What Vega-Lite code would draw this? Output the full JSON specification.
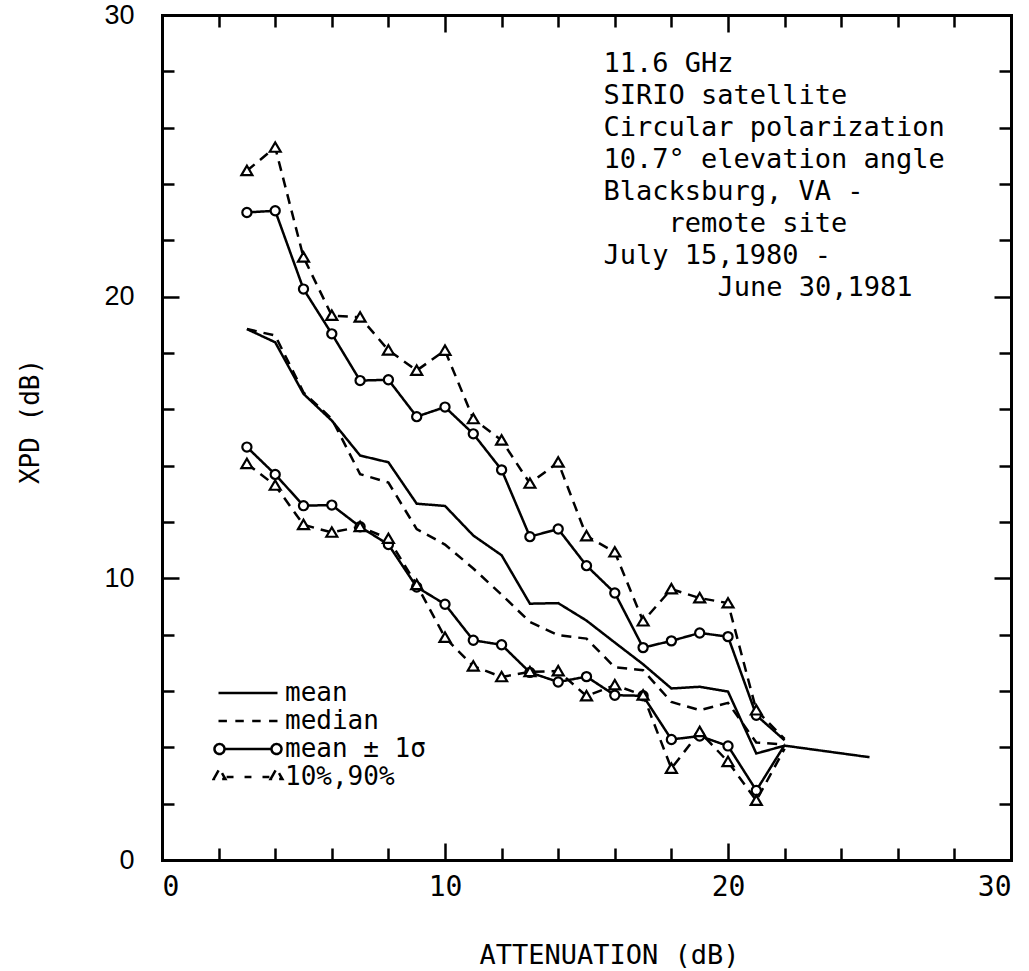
{
  "$schema": "https://vega.github.io/schema/vega-lite/v6.json",
  "width": 849,
  "height": 845,
  "autosize": {"type": "none"},
  "padding": {"left": 162, "top": 15, "right": 18, "bottom": 111},
  "background": "white",
  "config": {
    "view": {"stroke": null},
    "axis": {
      "grid": false,
      "domainColor": "black",
      "domainWidth": 3,
      "domainCap": "square",
      "tickColor": "black",
      "tickWidth": 2.5,
      "labelColor": "black",
      "titleColor": "black",
      "titleFontWeight": "normal"
    },
    "text": {"font": "DejaVu Sans Mono", "fontSize": 27, "align": "left", "baseline": "alphabetic", "lineHeight": 32, "color": "black"}
  },
  "datasets": {
    "xpd": [
      {"a": 3, "mean": 18.85, "median": 18.85, "sd_hi": 22.99, "sd_lo": 14.66, "p90": 24.47, "p10": 14.07},
      {"a": 4, "mean": 18.38, "median": 18.62, "sd_hi": 23.05, "sd_lo": 13.69, "p90": 25.3, "p10": 13.3},
      {"a": 5, "mean": 16.55, "median": 16.6, "sd_hi": 20.27, "sd_lo": 12.58, "p90": 21.4, "p10": 11.9},
      {"a": 6, "mean": 15.6, "median": 15.66, "sd_hi": 18.68, "sd_lo": 12.6, "p90": 19.33, "p10": 11.63},
      {"a": 7, "mean": 14.36, "median": 13.7, "sd_hi": 17.02, "sd_lo": 11.83, "p90": 19.27, "p10": 11.83},
      {"a": 8, "mean": 14.12, "median": 13.4, "sd_hi": 17.05, "sd_lo": 11.2, "p90": 18.1, "p10": 11.41},
      {"a": 9, "mean": 12.65, "median": 11.75, "sd_hi": 15.74, "sd_lo": 9.69, "p90": 17.38, "p10": 9.77},
      {"a": 10, "mean": 12.57, "median": 11.2, "sd_hi": 16.08, "sd_lo": 9.08, "p90": 18.09, "p10": 7.9},
      {"a": 11, "mean": 11.52, "median": 10.35, "sd_hi": 15.13, "sd_lo": 7.8, "p90": 15.66, "p10": 6.88},
      {"a": 12, "mean": 10.82, "median": 9.42, "sd_hi": 13.85, "sd_lo": 7.64, "p90": 14.9, "p10": 6.5},
      {"a": 13, "mean": 9.1, "median": 8.45, "sd_hi": 11.48, "sd_lo": 6.66, "p90": 13.37, "p10": 6.68},
      {"a": 14, "mean": 9.12, "median": 7.98, "sd_hi": 11.75, "sd_lo": 6.32, "p90": 14.12, "p10": 6.71},
      {"a": 15, "mean": 8.5, "median": 7.86, "sd_hi": 10.45, "sd_lo": 6.51, "p90": 11.5, "p10": 5.82},
      {"a": 16, "mean": 7.72, "median": 6.84, "sd_hi": 9.48, "sd_lo": 5.85, "p90": 10.93, "p10": 6.21},
      {"a": 17, "mean": 6.95, "median": 6.74, "sd_hi": 7.54, "sd_lo": 5.83, "p90": 8.48, "p10": 5.85},
      {"a": 18, "mean": 6.09, "median": 5.61, "sd_hi": 7.78, "sd_lo": 4.28, "p90": 9.62, "p10": 3.25},
      {"a": 19, "mean": 6.15, "median": 5.32, "sd_hi": 8.06, "sd_lo": 4.4, "p90": 9.3, "p10": 4.55},
      {"a": 20, "mean": 5.98, "median": 5.58, "sd_hi": 7.93, "sd_lo": 4.05, "p90": 9.12, "p10": 3.49},
      {"a": 21, "mean": 3.78, "median": 4.17, "sd_hi": 5.14, "sd_lo": 2.47, "p90": 5.32, "p10": 2.11},
      {"a": 22, "mean": 4.06, "median": 4.1, "sd_hi": 4.25, "sd_lo": 4.08, "p90": 4.3, "p10": 3.95},
      {"a": 25, "mean": 3.65}
    ],
    "curves": [
      {"curve": "mean", "stat": "mean"},
      {"curve": "median", "stat": "median"},
      {"curve": "sd_hi", "stat": "mean ± 1σ"},
      {"curve": "sd_lo", "stat": "mean ± 1σ"},
      {"curve": "p90", "stat": "10%,90%"},
      {"curve": "p10", "stat": "10%,90%"}
    ]
  },
  "layer": [
    {
      "data": {"name": "xpd"},
      "transform": [
        {"fold": ["mean", "median", "sd_hi", "sd_lo", "p90", "p10"], "as": ["curve", "xpd"]},
        {"filter": "isValid(datum.xpd)"},
        {"lookup": "curve", "from": {"data": {"name": "curves"}, "key": "curve", "fields": ["stat"]}}
      ],
      "mark": {"type": "line", "color": "black", "strokeWidth": 2.5},
      "encoding": {
        "x": {
          "field": "a", "type": "quantitative",
          "scale": {"domain": [0, 30], "nice": false, "zero": false},
          "axis": {
            "orient": "bottom", "values": [0, 10, 20, 30], "ticks": false, "domain": true,
            "labelFont": "DejaVu Sans Mono", "labelFontSize": 28, "labelPadding": 13,
            "labelBaseline": "top", "labelFlush": true,
            "title": "ATTENUATION (dB)", "titleFont": "DejaVu Sans Mono", "titleFontSize": 27,
            "titleX": 447, "titleY": 103, "titleAlign": "center", "titleBaseline": "alphabetic"
          }
        },
        "y": {
          "field": "xpd", "type": "quantitative",
          "scale": {"domain": [0, 30], "nice": false, "zero": false},
          "axis": {
            "orient": "left", "values": [0, 10, 20, 30], "ticks": false, "domain": true,
            "labelFont": "Liberation Sans", "labelFontSize": 27, "labelPadding": 28,
            "title": "XPD (dB)", "titleFont": "DejaVu Sans Mono", "titleFontSize": 26,
            "titleX": -132, "titleY": 406, "titleAngle": 270, "titleAlign": "center", "titleBaseline": "middle"
          }
        },
        "detail": {"field": "curve"},
        "strokeDash": {
          "field": "stat", "type": "nominal",
          "scale": {"domain": ["mean", "median", "mean ± 1σ", "10%,90%"], "range": [[1, 0], [10, 7], [1, 0], [10, 7]]},
          "legend": {
            "orient": "none", "legendX": 50, "legendY": 665, "title": null, "padding": 0,
            "symbolType": "stroke", "symbolSize": 4761, "symbolStrokeWidth": 2.5, "symbolStrokeColor": "black",
            "labelFont": "DejaVu Sans Mono", "labelFontSize": 26, "labelColor": "black", "labelOffset": 1,
            "clipHeight": 26, "rowPadding": 2,
            "encode": {
              "symbols": {
                "update": {
                  "shape": [
                    {"test": "datum.value === 'median'", "value": "M-0.855,0H-0.611M-0.367,0H-0.122M0.122,0H0.367M0.611,0H0.855"},
                    {"test": "datum.value === 'mean ± 1σ'", "value": "M-0.681,0C-0.681,0.08,-0.746,0.145,-0.826,0.145C-0.906,0.145,-0.971,0.08,-0.971,0C-0.971,-0.08,-0.906,-0.145,-0.826,-0.145C-0.746,-0.145,-0.681,-0.08,-0.681,0ZM-0.681,0H0.681M0.971,0C0.971,0.08,0.906,0.145,0.826,0.145C0.746,0.145,0.681,0.08,0.681,0C0.681,-0.08,0.746,-0.145,0.826,-0.145C0.906,-0.145,0.971,-0.08,0.971,0Z"},
                    {"test": "datum.value === '10%,90%'", "value": "M-0.996,0.06L-0.826,-0.24L-0.656,0.06ZM-0.62,0H-0.42M-0.1,0H0.1M0.42,0H0.62M0.656,0.06L0.826,-0.24L0.996,0.06Z"},
                    {"value": "M-0.855,0H0.855"}
                  ],
                  "strokeDash": {"value": []},
                  "fill": {"value": "transparent"},
                  "stroke": {"value": "black"}
                }
              }
            }
          }
        }
      }
    },
    {
      "data": {"name": "xpd"},
      "transform": [
        {"fold": ["sd_hi", "sd_lo", "p90", "p10"], "as": ["curve", "xpd"]},
        {"filter": "isValid(datum.xpd) && datum.a <= 21"},
        {"lookup": "curve", "from": {"data": {"name": "curves"}, "key": "curve", "fields": ["stat"]}}
      ],
      "mark": {"type": "point", "filled": true, "fill": "white", "stroke": "black", "strokeWidth": 2.2, "size": 84, "opacity": 1},
      "encoding": {
        "x": {
          "field": "a", "type": "quantitative",
          "scale": {"domain": [0, 30], "nice": false, "zero": false},
          "axis": {
            "orient": "top", "values": [2, 4, 6, 8, 10, 12, 14, 16, 18, 20, 22, 24, 26, 28],
            "labels": false, "domain": true, "ticks": true, "title": null,
            "tickSize": {"condition": {"test": "datum.value % 10 === 0", "value": -17}, "value": -12}
          }
        },
        "y": {
          "field": "xpd", "type": "quantitative",
          "scale": {"domain": [0, 30], "nice": false, "zero": false},
          "axis": {
            "orient": "right", "values": [2, 4, 6, 8, 10, 12, 14, 16, 18, 20, 22, 24, 26, 28],
            "labels": false, "domain": true, "ticks": true, "title": null,
            "tickSize": {"condition": {"test": "datum.value % 10 === 0", "value": -17}, "value": -12}
          }
        },
        "shape": {
          "field": "stat", "type": "nominal",
          "scale": {"domain": ["mean ± 1σ", "10%,90%"], "range": ["circle", "M-1.2,0.95L0,-1.1L1.2,0.95Z"]},
          "legend": null
        }
      }
    },
    {
      "data": {"values": [{}]},
      "mark": {
        "type": "text",
        "text": [
          "11.6 GHz",
          "SIRIO satellite",
          "Circular polarization",
          "10.7° elevation angle",
          "Blacksburg, VA -"
        ]
      },
      "encoding": {
        "x": {
          "datum": 15.6, "type": "quantitative",
          "scale": {"domain": [0, 30], "nice": false, "zero": false},
          "axis": {
            "orient": "bottom", "values": [2, 4, 6, 8, 10, 12, 14, 16, 18, 20, 22, 24, 26, 28],
            "labels": false, "domain": false, "ticks": true, "title": null,
            "tickSize": {"condition": {"test": "datum.value % 10 === 0", "value": -17}, "value": -12}
          }
        },
        "y": {
          "datum": 27.98, "type": "quantitative",
          "scale": {"domain": [0, 30], "nice": false, "zero": false},
          "axis": {
            "orient": "left", "values": [2, 4, 6, 8, 10, 12, 14, 16, 18, 20, 22, 24, 26, 28],
            "labels": false, "domain": false, "ticks": true, "title": null,
            "tickSize": {"condition": {"test": "datum.value % 10 === 0", "value": -17}, "value": -12}
          }
        }
      }
    },
    {
      "data": {"values": [{}]},
      "mark": {"type": "text", "text": "remote site", "dx": 65, "dy": 160},
      "encoding": {
        "x": {"datum": 15.6, "type": "quantitative", "scale": {"domain": [0, 30], "nice": false, "zero": false}, "axis": null},
        "y": {"datum": 27.98, "type": "quantitative", "scale": {"domain": [0, 30], "nice": false, "zero": false}, "axis": null}
      }
    },
    {
      "data": {"values": [{}]},
      "mark": {"type": "text", "text": "July 15,1980 -", "dy": 192},
      "encoding": {
        "x": {"datum": 15.6, "type": "quantitative", "scale": {"domain": [0, 30], "nice": false, "zero": false}, "axis": null},
        "y": {"datum": 27.98, "type": "quantitative", "scale": {"domain": [0, 30], "nice": false, "zero": false}, "axis": null}
      }
    },
    {
      "data": {"values": [{}]},
      "mark": {"type": "text", "text": "June 30,1981", "dx": 114, "dy": 224},
      "encoding": {
        "x": {"datum": 15.6, "type": "quantitative", "scale": {"domain": [0, 30], "nice": false, "zero": false}, "axis": null},
        "y": {"datum": 27.98, "type": "quantitative", "scale": {"domain": [0, 30], "nice": false, "zero": false}, "axis": null}
      }
    }
  ],
  "resolve": {"axis": {"x": "independent", "y": "independent"}}
}
